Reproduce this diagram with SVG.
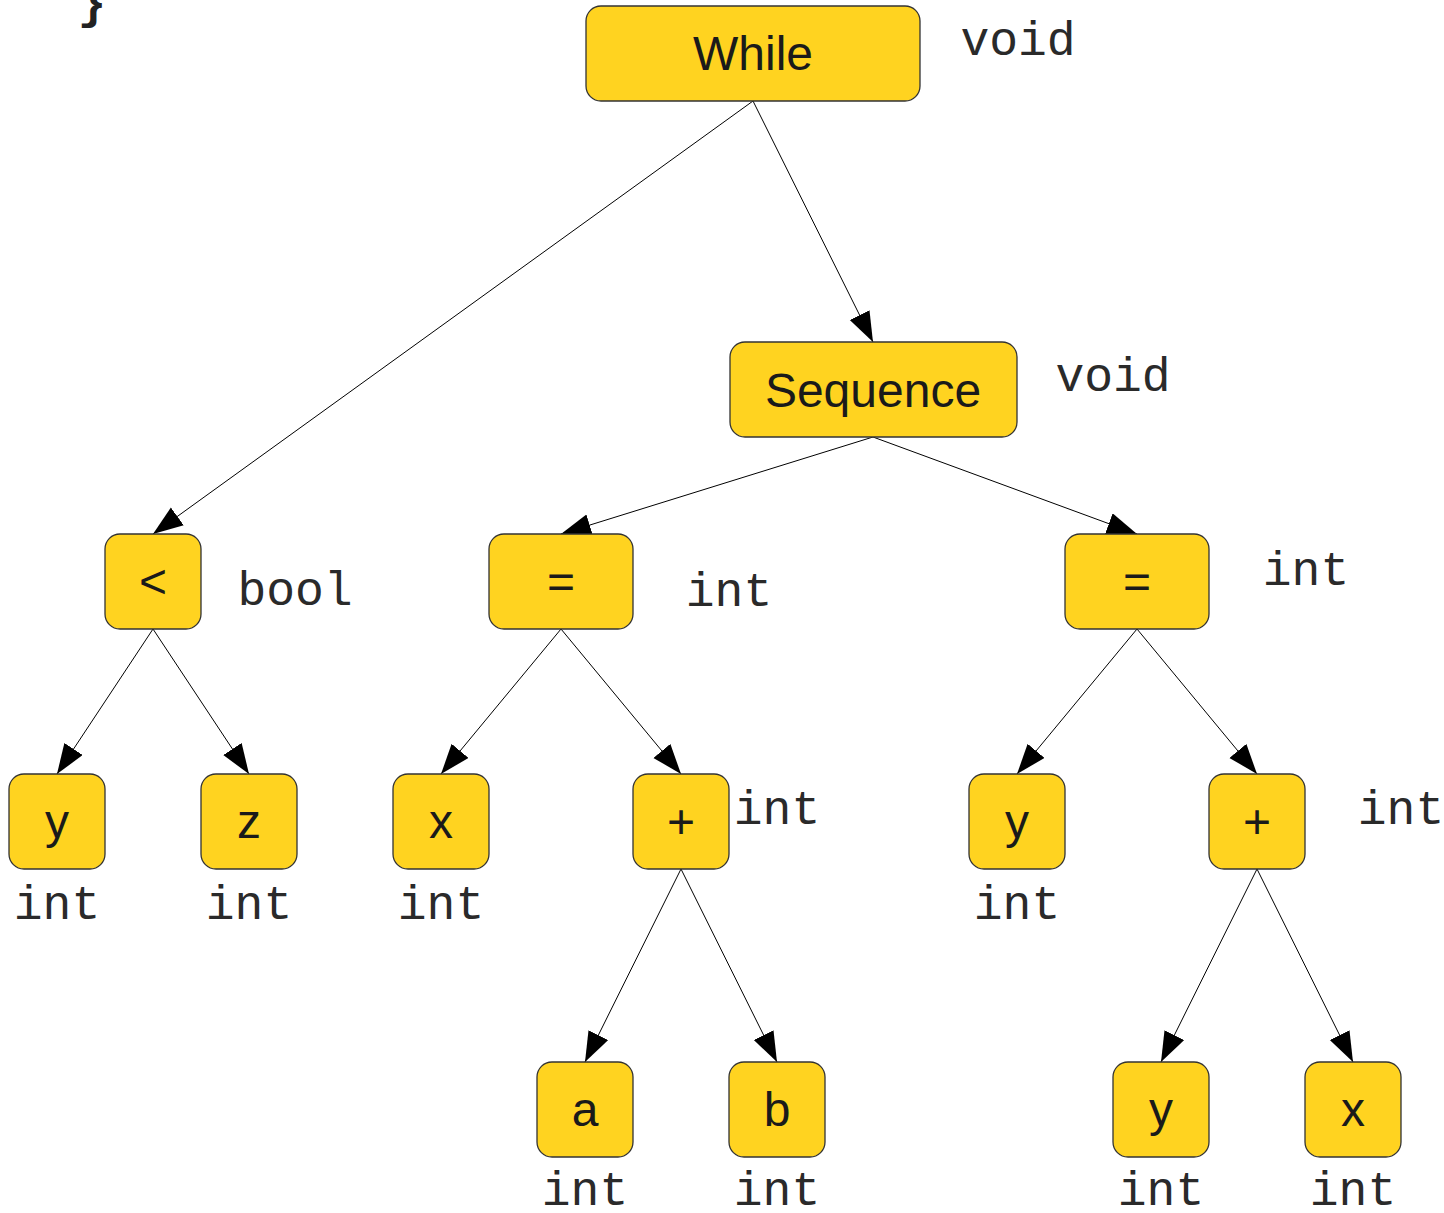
<svg xmlns="http://www.w3.org/2000/svg" width="1444" height="1213" viewBox="0 0 1444 1213">
<style>
.n{fill:#FFD320;stroke:#333;stroke-width:1.3}
.t{font-family:"Liberation Sans",Arial,sans-serif;font-size:48px;fill:#1a1a1a;text-anchor:middle}
.m{font-family:"Liberation Mono","Courier New",monospace;font-size:48px;fill:#2a2a2a;text-anchor:middle}
.e{stroke:#000;stroke-width:1;fill:none;marker-end:url(#ah)}
</style>
<defs>
<marker id="ah" markerUnits="userSpaceOnUse" markerWidth="32" markerHeight="24" refX="30" refY="11" orient="auto">
<path d="M0,0 L30,11 L0,22 z" fill="#000"/>
</marker>
</defs>
<rect width="1444" height="1213" fill="#fff"/>
<text x="92" y="18" font-family="Liberation Mono,monospace" font-weight="bold" font-size="48" fill="#222" text-anchor="middle">}</text>
<g id="connectors">
<line class="e" x1="753" y1="101" x2="153" y2="534"/>
<line class="e" x1="753" y1="101" x2="873" y2="342"/>
<line class="e" x1="873" y1="437" x2="561" y2="534"/>
<line class="e" x1="873" y1="437" x2="1137" y2="534"/>
<line class="e" x1="153" y1="629" x2="57" y2="774"/>
<line class="e" x1="153" y1="629" x2="249" y2="774"/>
<line class="e" x1="561" y1="629" x2="441" y2="774"/>
<line class="e" x1="561" y1="629" x2="681" y2="774"/>
<line class="e" x1="1137" y1="629" x2="1017" y2="774"/>
<line class="e" x1="1137" y1="629" x2="1257" y2="774"/>
<line class="e" x1="681" y1="869" x2="585" y2="1062"/>
<line class="e" x1="681" y1="869" x2="777" y2="1062"/>
<line class="e" x1="1257" y1="869" x2="1161" y2="1062"/>
<line class="e" x1="1257" y1="869" x2="1353" y2="1062"/>
</g>
<g id="while"><rect class="n" x="586" y="6" width="334" height="95" rx="15"/><text class="t" x="753" y="70">While</text><text class="m" x="1018" y="55">void</text></g>
<g id="sequence"><rect class="n" x="730" y="342" width="287" height="95" rx="15"/><text class="t" x="873" y="407">Sequence</text><text class="m" x="1113" y="391">void</text></g>
<g id="lt"><rect class="n" x="105" y="534" width="96" height="95" rx="15"/><text class="t" x="153" y="598">&lt;</text><text class="m" x="295" y="605">bool</text></g>
<g id="assign1"><rect class="n" x="489" y="534" width="144" height="95" rx="15"/><text class="t" x="561" y="598">=</text><text class="m" x="729" y="606">int</text></g>
<g id="assign2"><rect class="n" x="1065" y="534" width="144" height="95" rx="15"/><text class="t" x="1137" y="598">=</text><text class="m" x="1306" y="585">int</text></g>
<g id="y1"><rect class="n" x="9" y="774" width="96" height="95" rx="15"/><text class="t" x="57" y="838">y</text><text class="m" x="57" y="919">int</text></g>
<g id="z1"><rect class="n" x="201" y="774" width="96" height="95" rx="15"/><text class="t" x="249" y="838">z</text><text class="m" x="249" y="919">int</text></g>
<g id="x1"><rect class="n" x="393" y="774" width="96" height="95" rx="15"/><text class="t" x="441" y="838">x</text><text class="m" x="441" y="919">int</text></g>
<g id="plus1"><rect class="n" x="633" y="774" width="96" height="95" rx="15"/><text class="t" x="681" y="838">+</text><text class="m" x="777" y="824">int</text></g>
<g id="y2"><rect class="n" x="969" y="774" width="96" height="95" rx="15"/><text class="t" x="1017" y="838">y</text><text class="m" x="1017" y="919">int</text></g>
<g id="plus2"><rect class="n" x="1209" y="774" width="96" height="95" rx="15"/><text class="t" x="1257" y="838">+</text><text class="m" x="1401" y="824">int</text></g>
<g id="a"><rect class="n" x="537" y="1062" width="96" height="95" rx="15"/><text class="t" x="585" y="1126">a</text><text class="m" x="585" y="1205">int</text></g>
<g id="b"><rect class="n" x="729" y="1062" width="96" height="95" rx="15"/><text class="t" x="777" y="1126">b</text><text class="m" x="777" y="1205">int</text></g>
<g id="y3"><rect class="n" x="1113" y="1062" width="96" height="95" rx="15"/><text class="t" x="1161" y="1126">y</text><text class="m" x="1161" y="1205">int</text></g>
<g id="x2"><rect class="n" x="1305" y="1062" width="96" height="95" rx="15"/><text class="t" x="1353" y="1126">x</text><text class="m" x="1353" y="1205">int</text></g>
</svg>
